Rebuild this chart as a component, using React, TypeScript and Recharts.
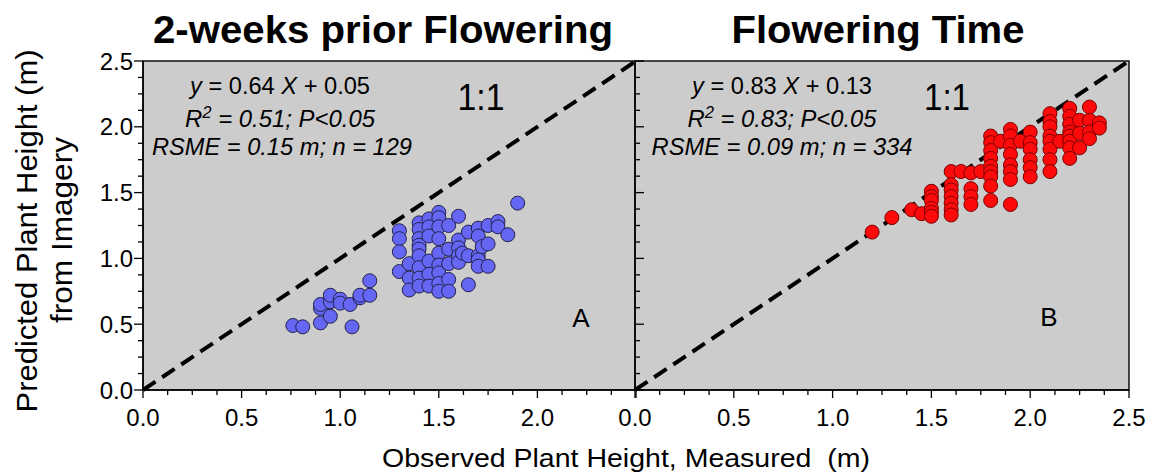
import React from 'react';
import { ScatterChart, Scatter, XAxis, YAxis, ReferenceArea, ReferenceLine } from 'recharts';

// ---- Data ----
const axisTicks = [0, 0.125, 0.25, 0.375, 0.5, 0.625, 0.75, 0.875, 1, 1.125, 1.25, 1.375, 1.5, 1.625, 1.75, 1.875, 2, 2.125, 2.25, 2.375, 2.5];
const leftXTickLabels = ['0.0', '0.5', '1.0', '1.5', '2.0'];
const rightXTickLabels = ['0.0', '0.5', '1.0', '1.5', '2.0', '2.5'];
const yTickLabels = ['0.0', '0.5', '1.0', '1.5', '2.0', '2.5'];

// 2-weeks prior flowering (observed, predicted)
const priorPoints: [number, number][] = [
  [0.76, 0.49], [0.81, 0.48], [0.90, 0.51], [0.90, 0.62], [0.90, 0.65], [0.95, 0.56], [0.95, 0.67], [0.95, 0.72],
  [1.00, 0.69], [1.00, 0.66], [1.05, 0.65], [1.06, 0.48], [1.10, 0.70], [1.10, 0.72], [1.15, 0.72], [1.15, 0.83],
  [1.30, 1.21], [1.30, 1.15], [1.30, 1.05], [1.30, 0.90],
  [1.35, 0.96], [1.35, 0.85], [1.35, 0.76],
  [1.40, 1.27], [1.40, 1.22], [1.40, 1.15], [1.40, 1.10], [1.40, 1.07], [1.40, 1.02], [1.40, 0.93], [1.40, 0.85], [1.40, 0.79],
  [1.45, 1.30], [1.45, 1.24], [1.45, 1.17], [1.45, 0.98], [1.45, 0.88], [1.45, 0.79],
  [1.50, 1.35], [1.50, 1.31], [1.50, 1.24], [1.50, 1.15], [1.50, 1.04], [1.50, 0.95], [1.50, 0.89], [1.50, 0.81], [1.50, 0.75],
  [1.55, 1.25], [1.55, 1.07], [1.55, 0.96], [1.55, 0.84], [1.55, 0.75],
  [1.60, 1.32], [1.60, 1.14], [1.60, 1.08], [1.60, 1.02], [1.60, 0.97], [1.62, 1.04],
  [1.65, 1.20], [1.65, 1.02], [1.65, 0.80],
  [1.70, 1.23], [1.70, 1.17], [1.70, 1.02], [1.70, 0.99], [1.70, 0.94], [1.72, 1.09],
  [1.75, 1.25], [1.75, 1.11], [1.75, 0.94],
  [1.80, 1.28], [1.80, 1.24], [1.85, 1.18], [1.90, 1.42],
];

// Flowering time (observed, predicted)
const floweringPoints: [number, number][] = [
  [1.20, 1.20], [1.30, 1.31], [1.40, 1.37], [1.45, 1.34],
  [1.50, 1.51], [1.50, 1.47], [1.50, 1.44], [1.50, 1.38], [1.50, 1.35], [1.50, 1.32],
  [1.60, 1.66], [1.60, 1.56], [1.60, 1.52], [1.60, 1.47], [1.60, 1.42], [1.60, 1.37], [1.60, 1.33],
  [1.65, 1.66],
  [1.70, 1.65], [1.70, 1.53], [1.70, 1.47], [1.70, 1.41],
  [1.75, 1.66],
  [1.80, 1.93], [1.80, 1.88], [1.80, 1.82], [1.80, 1.76], [1.80, 1.70], [1.80, 1.66], [1.80, 1.62], [1.80, 1.55], [1.80, 1.44],
  [1.85, 1.89],
  [1.90, 1.98], [1.90, 1.93], [1.90, 1.86], [1.90, 1.79], [1.90, 1.71], [1.90, 1.66], [1.90, 1.60], [1.90, 1.41],
  [1.95, 1.89],
  [2.00, 1.96], [2.00, 1.88], [2.00, 1.83], [2.00, 1.75], [2.00, 1.69], [2.00, 1.62],
  [2.10, 2.10], [2.10, 2.04], [2.10, 2.00], [2.10, 1.93], [2.10, 1.89], [2.10, 1.83], [2.10, 1.75], [2.10, 1.66],
  [2.15, 1.89],
  [2.20, 2.14], [2.20, 2.08], [2.20, 2.02], [2.20, 1.96], [2.20, 1.93], [2.20, 1.89], [2.20, 1.84], [2.20, 1.76],
  [2.25, 2.05], [2.25, 1.95], [2.25, 1.84],
  [2.30, 2.15], [2.30, 2.05], [2.30, 1.96], [2.30, 1.91],
  [2.35, 2.03], [2.35, 1.99],
];

const priorData = priorPoints.map(([x, y]) => ({ x, y }));
const floweringData = floweringPoints.map(([x, y]) => ({ x, y }));

const FONT = '"Liberation Sans", Arial, Helvetica, sans-serif';
const isMajor = (v: number) => Math.abs(v * 2 - Math.round(v * 2)) < 1e-6;
const majorIndex = (v: number) => Math.round(v * 2);

const YTickOuter = (props: any) => {
  const { x, y, payload } = props;
  const v = payload.value as number;
  const major = isMajor(v);
  const len = major ? 9 : 5;
  return (
    <g>
      <line x1={x} x2={x - len} y1={y} y2={y} stroke="#000" strokeWidth={1.3} />
      {major && (
        <text x={x - 10} y={y + 8.5} textAnchor="end" fontSize={24} fontFamily={FONT} fill="#000">
          {yTickLabels[majorIndex(v)]}
        </text>
      )}
    </g>
  );
};

const YTickInner = (props: any) => {
  const { x, y, payload } = props;
  const v = payload.value as number;
  const len = isMajor(v) ? 9 : 5;
  return <line x1={x} x2={x + len} y1={y} y2={y} stroke="#000" strokeWidth={1.3} />;
};

const makeXTick = (labels: string[]) => (props: any) => {
  const { x, y, payload } = props;
  const v = payload.value as number;
  const major = isMajor(v);
  const len = major ? 8 : 5;
  const label = major ? labels[majorIndex(v)] : undefined;
  return (
    <g>
      <line x1={x} x2={x} y1={y} y2={y + len} stroke="#000" strokeWidth={1.3} />
      {label && (
        <text x={x} y={y + 36} textAnchor="middle" fontSize={24} fontFamily={FONT} fill="#000">
          {label}
        </text>
      )}
    </g>
  );
};

const LeftXTick = makeXTick(leftXTickLabels);
const RightXTick = makeXTick(rightXTickLabels);

const BlueDot = (props: any) => (
  <circle cx={props.cx} cy={props.cy} r={7} fill="#6666f5" stroke="#22224a" strokeWidth={1} />
);
const RedDot = (props: any) => (
  <circle cx={props.cx} cy={props.cy} r={7} fill="#ff0a0a" stroke="#7a0000" strokeWidth={1} />
);

const Panel = ({ data, dot, yTick, xTick, yWidth, margin, width, name }: any) => (
  <ScatterChart width={width} height={474} margin={margin}>
    <XAxis
      type="number"
      dataKey="x"
      domain={[0, 2.5]}
      ticks={axisTicks}
      interval={0}
      height={84}
      tickSize={0}
      tickMargin={0}
      tickLine={false}
      tick={xTick}
      axisLine={{ stroke: '#000', strokeWidth: 1.5 }}
      allowDataOverflow
    />
    <YAxis
      type="number"
      dataKey="y"
      domain={[0, 2.5]}
      ticks={axisTicks}
      interval={0}
      width={yWidth}
      tickSize={0}
      tickMargin={0}
      tickLine={false}
      tick={yTick}
      axisLine={{ stroke: '#000', strokeWidth: 1.5 }}
      allowDataOverflow
    />
    <ReferenceArea x1={0} x2={2.5} y1={0} y2={2.5} fill="#cccccc" fillOpacity={1} stroke="#111" strokeWidth={1.5} />
    <ReferenceLine
      segment={[{ x: 0, y: 0 }, { x: 2.5, y: 2.5 }]}
      stroke="#000"
      strokeWidth={4}
      strokeDasharray="15 8"
    />
    <Scatter name={name} data={data} shape={dot} isAnimationActive={false} />
  </ScatterChart>
);

export default function App() {
  return (
    <div style={{ position: 'absolute', left: 0, top: 0, width: 1151, height: 474, background: '#fff', fontFamily: FONT }}>
      <div style={{ position: 'absolute', left: 0, top: 0 }}>
        <Panel
          name="2-weeks prior Flowering"
          data={priorData}
          dot={BlueDot}
          yTick={YTickOuter}
          xTick={LeftXTick}
          yWidth={143}
          width={640}
          margin={{ top: 61, right: 4, bottom: 0, left: 0 }}
        />
      </div>
      <div style={{ position: 'absolute', left: 600, top: 0 }}>
        <Panel
          name="Flowering Time"
          data={floweringData}
          dot={RedDot}
          yTick={YTickInner}
          xTick={RightXTick}
          yWidth={35}
          width={551}
          margin={{ top: 61, right: 22, bottom: 0, left: 0 }}
        />
      </div>
      <svg width={1151} height={474} style={{ position: 'absolute', left: 0, top: 0, pointerEvents: 'none' }} fontFamily={FONT}>
        {/* Titles */}
        <text x={383} y={43} textAnchor="middle" fontSize={38} fontWeight="bold" textLength={460} lengthAdjust="spacingAndGlyphs">
          2-weeks prior Flowering
        </text>
        <text x={878} y={43} textAnchor="middle" fontSize={38} fontWeight="bold" textLength={293} lengthAdjust="spacingAndGlyphs">
          Flowering Time
        </text>

        {/* Left annotations */}
        <text x={280} y={94} textAnchor="middle" fontSize={23} textLength={180} lengthAdjust="spacingAndGlyphs">
          <tspan fontStyle="italic">y</tspan> = 0.64 <tspan fontStyle="italic">X</tspan> + 0.05
        </text>
        <text x={280} y={127} textAnchor="middle" fontSize={23} fontStyle="italic" textLength={190} lengthAdjust="spacingAndGlyphs">
          R<tspan fontSize={16} dy={-9}>2</tspan><tspan dy={9}> = 0.51; P&lt;0.05</tspan>
        </text>
        <text x={282} y={155} textAnchor="middle" fontSize={23} fontStyle="italic" textLength={260} lengthAdjust="spacingAndGlyphs">
          RSME = 0.15 m; n = 129
        </text>
        <text x={481} y={110} textAnchor="middle" fontSize={37} textLength={47} lengthAdjust="spacingAndGlyphs">1:1</text>
        <text x={581} y={327} textAnchor="middle" fontSize={26}>A</text>

        {/* Right annotations */}
        <text x={782} y={94} textAnchor="middle" fontSize={23} textLength={180} lengthAdjust="spacingAndGlyphs">
          <tspan fontStyle="italic">y</tspan> = 0.83 <tspan fontStyle="italic">X</tspan> + 0.13
        </text>
        <text x={782} y={127} textAnchor="middle" fontSize={23} fontStyle="italic" textLength={189} lengthAdjust="spacingAndGlyphs">
          R<tspan fontSize={16} dy={-9}>2</tspan><tspan dy={9}> = 0.83; P&lt;0.05</tspan>
        </text>
        <text x={782} y={155} textAnchor="middle" fontSize={23} fontStyle="italic" textLength={261} lengthAdjust="spacingAndGlyphs">
          RSME = 0.09 m; n = 334
        </text>
        <text x={947} y={110} textAnchor="middle" fontSize={37} textLength={46} lengthAdjust="spacingAndGlyphs">1:1</text>
        <text x={1049} y={326} textAnchor="middle" fontSize={26}>B</text>

        {/* Axis titles */}
        <text x={626} y={467} textAnchor="middle" fontSize={26} textLength={488} lengthAdjust="spacingAndGlyphs" style={{ whiteSpace: 'pre' }}>
          {'Observed Plant Height, Measured  (m)'}
        </text>
        <text transform="translate(37,231) rotate(-90)" textAnchor="middle" fontSize={30} textLength={363} lengthAdjust="spacingAndGlyphs">
          Predicted Plant Height (m)
        </text>
        <text transform="translate(72,230) rotate(-90)" textAnchor="middle" fontSize={30} textLength={186} lengthAdjust="spacingAndGlyphs">
          from Imagery
        </text>
      </svg>
    </div>
  );
}
